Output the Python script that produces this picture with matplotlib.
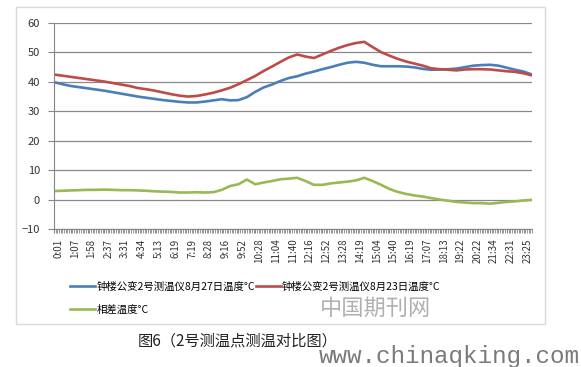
import numpy as np
import matplotlib
matplotlib.use("Agg")
import matplotlib.pyplot as plt
import matplotlib.patches as patches
import matplotlib.transforms as mtransforms
from matplotlib.ticker import MultipleLocator

plt.rcParams['font.family'] = ['Noto Sans CJK SC', 'DejaVu Sans']

# time labels along the x axis (every label is one category step)
time_labels = ["0:01", "1:07", "1:58", "2:37", "3:31", "4:34", "5:13", "6:19",
               "7:19", "8:28", "9:16", "9:52", "10:28", "11:04", "11:40",
               "12:16", "12:52", "13:28", "14:19", "15:04", "15:40", "16:19",
               "17:07", "18:13", "19:22", "20:22", "21:34", "22:31", "23:25"]

# values read every half label step
temp_0827 = [39.9, 39.2, 38.6, 38.2, 37.8, 37.4, 37.0, 36.5, 36.0, 35.5,
             35.0, 34.6, 34.2, 33.8, 33.5, 33.2, 33.0, 33.0, 33.3, 33.7,
             34.1, 33.7, 33.8, 34.8, 36.6, 38.1, 39.1, 40.3, 41.3, 41.9,
             42.8, 43.5, 44.3, 45.0, 45.8, 46.5, 46.8, 46.5, 45.8, 45.3,
             45.3, 45.3, 45.2, 44.9, 44.4, 44.1, 44.2, 44.3, 44.5, 45.0,
             45.5, 45.7, 45.8, 45.5, 44.8, 44.1, 43.5, 42.5]
temp_0823 = [42.5, 42.1, 41.7, 41.3, 40.9, 40.5, 40.1, 39.6, 39.1, 38.6,
             37.9, 37.5, 37.0, 36.4, 35.8, 35.3, 35.0, 35.2, 35.7, 36.3,
             37.1, 38.0, 39.2, 40.6, 42.0, 43.7, 45.2, 46.8, 48.3, 49.3,
             48.6, 48.1, 49.3, 50.5, 51.6, 52.5, 53.2, 53.6, 51.8, 50.1,
             48.9, 47.8, 46.9, 46.2, 45.5, 44.6, 44.3, 44.1, 43.9, 44.2,
             44.3, 44.3, 44.2, 43.9, 43.6, 43.4, 42.9, 42.2]
temp_diff = [2.9, 3.0, 3.1, 3.2, 3.3, 3.3, 3.4, 3.3, 3.2, 3.2,
             3.1, 3.0, 2.8, 2.7, 2.6, 2.4, 2.4, 2.5, 2.4, 2.5,
             3.3, 4.6, 5.2, 6.8, 5.2, 5.8, 6.3, 6.9, 7.1, 7.4,
             6.3, 5.0, 5.0, 5.5, 5.8, 6.1, 6.5, 7.4, 6.3, 5.0,
             3.6, 2.6, 1.9, 1.4, 1.0, 0.5, 0.0, -0.4, -0.8, -1.0,
             -1.2, -1.2, -1.4, -1.1, -0.8, -0.6, -0.3, -0.1]

name_0827 = "钟楼公变2号测温仪8月27日温度°C"
name_0823 = "钟楼公变2号测温仪8月23日温度°C"
name_diff = "相差温度°C"

W, H = 581, 367
fig = plt.figure(figsize=(W / 100, H / 100), dpi=100)

def fx(px):
    return px / W

def fy(py):
    return 1 - py / H

# chart frame
fig.patches.append(patches.Rectangle((fx(16), fy(324)), fx(545 - 16), (324 - 7) / H,
                                     transform=fig.transFigure, fill=False,
                                     edgecolor="#d9d9d9", lw=1))

ax = fig.add_axes([fx(54), fy(229), fx(532 - 54), (229 - 23) / H])
x = np.arange(len(temp_0827)) * 0.5

l1, = ax.plot(x, temp_0827, color="#4a7ebb", lw=1.9, label=name_0827)
l2, = ax.plot(x, temp_0823, color="#be4b48", lw=1.9, label=name_0823)
l3, = ax.plot(x, temp_diff, color="#98b954", lw=1.9, label=name_diff)

ax.set_xlim(0, x[-1])
ax.set_ylim(-10, 60)
ax.set_yticks(range(-10, 61, 10))
ax.yaxis.grid(True, color="#888888", lw=0.9)
ax.set_axisbelow(True)
for s in ["top", "right"]:
    ax.spines[s].set_visible(False)
ax.spines["left"].set_color("#868686")
ax.spines["bottom"].set_color("#868686")
ax.tick_params(axis="y", length=4, color="#868686", labelsize=8, pad=6, labelcolor="#333333")

ax.set_xticks(range(len(time_labels)))
ax.set_xticklabels(time_labels, rotation=90, va="top", ha="center")
ax.xaxis.set_minor_locator(MultipleLocator(0.1))
ax.tick_params(axis="x", which="both", length=3, color="#868686", labelsize=7,
               pad=4, labelcolor="#333333")
offset = mtransforms.ScaledTranslation(4 / 100, 0, fig.dpi_scale_trans)
for lab in ax.get_xticklabels():
    lab.set_transform(lab.get_transform() + offset)

fig.legend([l1, l3, l2], [name_0827, name_diff, name_0823], ncol=2,
           loc="upper left", bbox_to_anchor=(fx(63), fy(274)), frameon=False,
           fontsize=7.5, handlelength=2.4, handletextpad=0.1, columnspacing=0.1,
           labelspacing=1.25, borderpad=0.2)

fig.text(fx(376), fy(308), "中国期刊网", fontsize=16, color="#b0b0b0",
         ha="center", va="center")
fig.text(fx(238), fy(341), "图6（2号测温点测温对比图）", fontsize=11,
         color="#222222", ha="center", va="center")
fig.text(fx(449), fy(356), "www.chinaqking.com", fontsize=17.5, color="#7a7a7a",
         ha="center", va="center", family="Liberation Mono")

fig.savefig("out.png", dpi=100)
